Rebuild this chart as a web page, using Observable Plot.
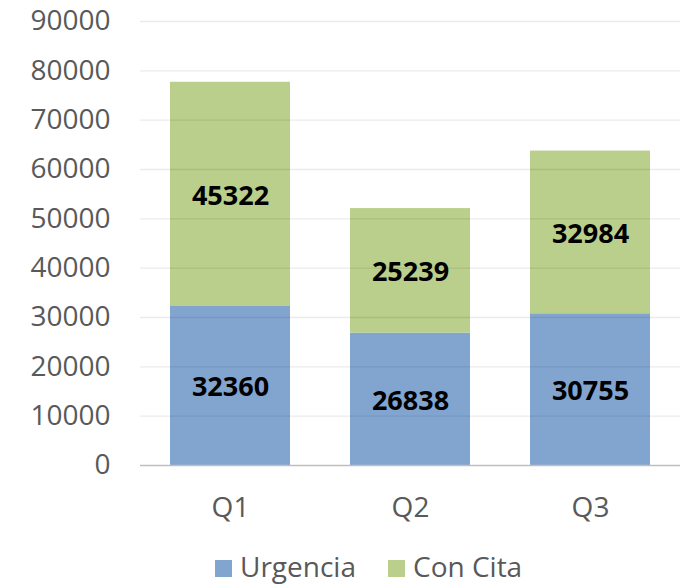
<!DOCTYPE html>
<html>
<head>
<meta charset="utf-8">
<script src="https://cdn.jsdelivr.net/npm/d3@7"></script>
<script src="https://cdn.jsdelivr.net/npm/@observablehq/plot@0.6"></script>
<style>
  body { margin: 0; background: #fff; }
  #wrap { position: relative; width: 686px; height: 584px; font-family: "Open Sans", sans-serif; }
  #legend { position: absolute; left: 215px; top: 548px; display: flex; align-items: center; font-size: 28px; line-height: 36px; color: #595959; white-space: nowrap; }
  .sw { display: inline-block; width: 17px; height: 17px; margin-right: 8px; position: relative; top: 2px; }
  .item { display: flex; align-items: center; margin-right: 32px; }
</style>
</head>
<body>
<div id="wrap"></div>
<script>
const quarters = ["Q1", "Q2", "Q3"];
const seriesNames = ["Urgencia", "Con Cita"];
const urgencia = [32360, 26838, 30755];
const conCita = [45322, 25239, 32984];
const seriesColors = ["#82a5d0", "#bacf8b"];
const yTicks = [0, 10000, 20000, 30000, 40000, 50000, 60000, 70000, 80000, 90000];

const rows = [];
quarters.forEach((q, i) => rows.push({q, serie: seriesNames[0], v: urgencia[i]}));
quarters.forEach((q, i) => rows.push({q, serie: seriesNames[1], v: conCita[i]}));

const chart = Plot.plot({
  width: 686,
  height: 535,
  marginTop: 21,
  marginBottom: 70,
  marginLeft: 140,
  marginRight: 6,
  style: {fontFamily: "'Open Sans', sans-serif", background: "#fff"},
  x: {domain: quarters, paddingInner: 1/3, paddingOuter: 1/6, label: null},
  y: {domain: [0, 90000], label: null},
  color: {domain: seriesNames, range: seriesColors},
  marks: [
    Plot.barY(rows, Plot.stackY({x: "q", y: "v", fill: "serie", order: seriesNames})),
    Plot.ruleY(yTicks.filter(d => d > 0), {stroke: "#000", strokeOpacity: 0.08, strokeWidth: 1.3}),
    Plot.ruleY([0], {stroke: "#bfbfbf", strokeWidth: 1.3}),
    Plot.text(rows, Plot.stackY({x: "q", y: "v", z: "serie", order: seriesNames, text: d => String(d.v), fontSize: 27, fontWeight: "bold", fill: "#000", dy: 2})),
    Plot.axisY({ticks: yTicks, tickSize: 0, tickPadding: 30, tickFormat: d => String(d), fontSize: 28, color: "#595959", label: null}),
    Plot.axisX({tickSize: 0, tickPadding: 32, fontSize: 28, color: "#595959", label: null})
  ]
});
const wrap = document.getElementById("wrap");
wrap.appendChild(chart);

const legend = document.createElement("div");
legend.id = "legend";
seriesNames.forEach((name, i) => {
  const it = document.createElement("span");
  it.className = "item";
  const sw = document.createElement("span");
  sw.className = "sw";
  sw.style.background = seriesColors[i];
  it.appendChild(sw);
  it.appendChild(document.createTextNode(name));
  legend.appendChild(it);
});
wrap.appendChild(legend);
</script>
</body>
</html>
